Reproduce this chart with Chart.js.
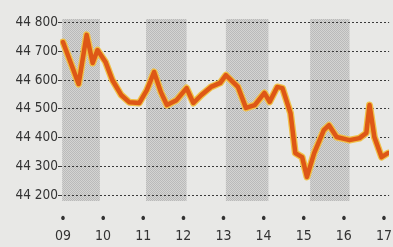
<!DOCTYPE html>
<html>
<head>
<meta charset="utf-8">
<script src="https://cdn.jsdelivr.net/npm/chart.js@4/dist/chart.umd.min.js"></script>
<style>
  html, body { margin: 0; padding: 0; background: #e8e8e6; }
  #wrap { width: 393px; height: 247px; }
</style>
</head>
<body>
<div id="wrap"><canvas id="priceChart"></canvas></div>
<script>
// day of month (x) and index value (y)
const days = [9.00, 9.39, 9.59, 9.74, 9.86, 10.06, 10.23, 10.45, 10.65, 10.90,
  11.09, 11.27, 11.44, 11.59, 11.83, 12.08, 12.25, 12.45, 12.69, 12.92,
  13.06, 13.36, 13.56, 13.78, 14.02, 14.15, 14.34, 14.47, 14.67, 14.79,
  14.96, 15.08, 15.26, 15.50, 15.63, 15.82, 16.14, 16.39, 16.56, 16.64,
  16.76, 16.94, 17.10];
const values = [44732, 44586, 44757, 44659, 44704, 44663, 44600, 44548, 44523, 44520,
  44565, 44628, 44558, 44513, 44530, 44572, 44520, 44548, 44576, 44590,
  44617, 44576, 44503, 44513, 44555, 44524, 44576, 44572, 44485, 44346,
  44332, 44263, 44346, 44426, 44443, 44402, 44391, 44398, 44416, 44513,
  44402, 44332, 44346];

const dayTicks = [9, 10, 11, 12, 13, 14, 15, 16, 17];
const dayLabels = ['09', '10', '11', '12', '13', '14', '15', '16', '17'];
const yTicks = [44200, 44300, 44400, 44500, 44600, 44700, 44800];
// shaded day bands [from, to]
const bands = [[8.98, 9.92], [11.07, 12.08], [13.06, 14.12], [15.16, 16.14]];

const FONT = "'DejaVu Sans Condensed', 'Liberation Sans Narrow', sans-serif";

function makePattern(ctx) {
  const c = document.createElement('canvas');
  c.width = 2; c.height = 2;
  const p = c.getContext('2d');
  p.fillStyle = '#d4d4d2'; p.fillRect(0, 0, 2, 2);
  p.fillStyle = '#bababa'; p.fillRect(0, 0, 1, 1); p.fillRect(1, 1, 1, 1);
  return ctx.createPattern(c, 'repeat');
}

const bandPlugin = {
  id: 'bands',
  beforeDraw(chart) {
    const { ctx, chartArea, scales } = chart;
    ctx.save();
    ctx.fillStyle = '#e8e8e6';
    ctx.fillRect(0, 0, chart.width, chart.height);
    ctx.fillStyle = makePattern(ctx);
    bands.forEach(b => {
      const x0 = scales.x.getPixelForValue(b[0]);
      const x1 = scales.x.getPixelForValue(b[1]);
      ctx.fillRect(x0, chartArea.top + 4, x1 - x0, chartArea.bottom - chartArea.top - 5);
    });
    ctx.restore();
  }
};

const pts = days.map((d, i) => ({ x: d, y: values[i] }));

new Chart(document.getElementById('priceChart').getContext('2d'), {
  type: 'line',
  data: {
    datasets: [
      { data: pts, borderColor: '#de5716', borderWidth: 4.5, pointRadius: 0, tension: 0, borderJoinStyle: 'round', borderCapStyle: 'round' },
      { data: pts, borderColor: '#f0c048', borderWidth: 7, pointRadius: 0, tension: 0, borderJoinStyle: 'round', borderCapStyle: 'round' }
    ]
  },
  options: {
    responsive: true,
    maintainAspectRatio: false,
    animation: false,
    layout: { padding: { top: 15, right: 0, left: 0, bottom: 0 } },
    plugins: { legend: { display: false }, tooltip: { enabled: false } },
    scales: {
      x: {
        type: 'linear',
        min: 8.926,
        max: 17.128,
        afterBuildTicks(scale) { scale.ticks = dayTicks.map(v => ({ value: v })); },
        afterFit(scale) { scale.height = 45; },
        grid: { display: false },
        border: { display: false },
        ticks: {
          autoSkip: false,
          maxRotation: 0,
          padding: 1,
          color: '#333',
          font: { family: FONT, size: 14, lineHeight: '17px' },
          callback: (v) => ['\u2022', dayLabels[dayTicks.indexOf(v)]]
        }
      },
      y: {
        min: 44176,
        max: 44826,
        afterBuildTicks(scale) { scale.ticks = yTicks.map(v => ({ value: v })); },
        afterFit(scale) { scale.width = 60; },
        border: { display: false, dash: [2, 2] },
        grid: {
          color: 'rgba(40,40,40,0.9)',
          lineWidth: 1,
          tickLength: 2,
          tickColor: 'rgba(40,40,40,0.9)'
        },
        ticks: {
          padding: 0,
          color: '#333',
          font: { family: FONT, size: 13.5 },
          callback: (v) => String(v).slice(0, 2) + ' ' + String(v).slice(2)
        }
      }
    }
  },
  plugins: [bandPlugin]
});
</script>
</body>
</html>
